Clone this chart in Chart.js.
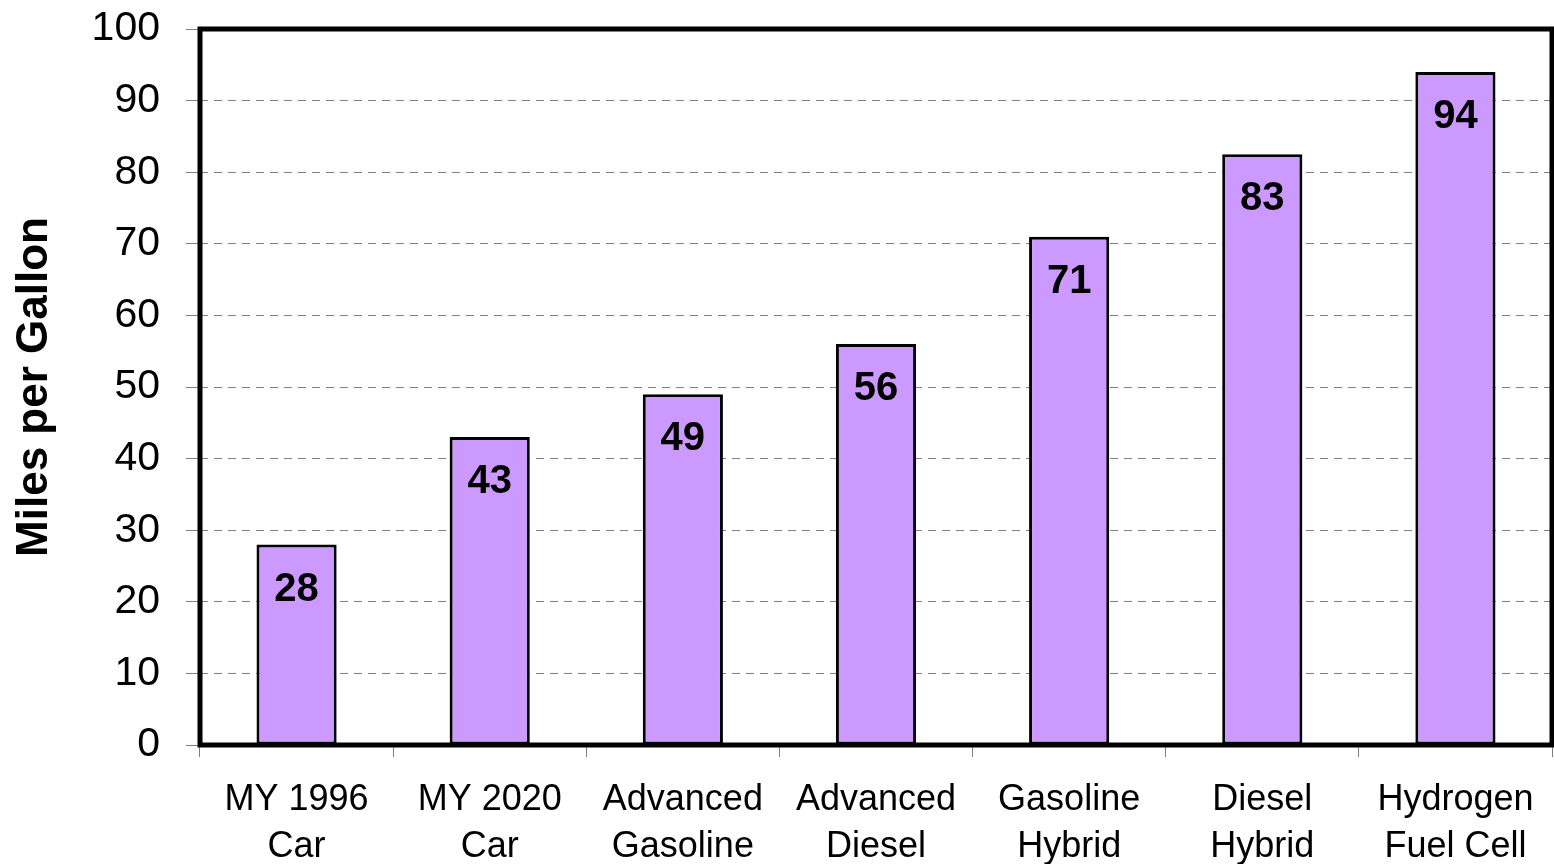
<!DOCTYPE html>
<html>
<head>
<meta charset="utf-8">
<script src="https://cdn.jsdelivr.net/npm/chart.js@4/dist/chart.umd.min.js"></script>
<style>
  html, body { margin: 0; padding: 0; background: #fff; }
  #mpg-chart { display: block; }
</style>
</head>
<body>
<canvas id="mpg-chart" width="1554" height="864"></canvas>
<script>
// categories, two lines each
var categories = [
  ['MY 1996', 'Car'],
  ['MY 2020', 'Car'],
  ['Advanced', 'Gasoline'],
  ['Advanced', 'Diesel'],
  ['Gasoline', 'Hybrid'],
  ['Diesel', 'Hybrid'],
  ['Hydrogen', 'Fuel Cell']
];
var mpgValues = [28, 43, 49, 56, 71, 82.5, 94];
var yTicks = [0, 10, 20, 30, 40, 50, 60, 70, 80, 90, 100];

var FONT = 'Arial, "Liberation Sans", sans-serif';

// value labels drawn inside the top of each bar
var barLabels = {
  id: 'barLabels',
  afterDatasetsDraw: function (chart) {
    var ctx = chart.ctx;
    var meta = chart.getDatasetMeta(0);
    ctx.save();
    ctx.font = 'bold 40px ' + FONT;
    ctx.fillStyle = '#000';
    ctx.textAlign = 'center';
    ctx.textBaseline = 'middle';
    meta.data.forEach(function (bar, i) {
      ctx.fillText(Math.round(mpgValues[i]), bar.x, bar.y + 45);
    });
    ctx.restore();
  }
};

// thick black frame round the plot area
var plotFrame = {
  id: 'plotFrame',
  afterDraw: function (chart) {
    var a = chart.chartArea;
    var ctx = chart.ctx;
    ctx.save();
    ctx.lineWidth = 5;
    ctx.strokeStyle = '#000';
    ctx.strokeRect(a.left, a.top, a.right - a.left, a.bottom - a.top);
    ctx.restore();
  }
};

var config = {
  type: 'bar',
  data: {
    labels: categories,
    datasets: [{
      data: mpgValues,
      backgroundColor: '#CC99FF',
      borderColor: '#000',
      borderWidth: 3,
      borderSkipped: false,
      categoryPercentage: 1,
      barPercentage: 0.415
    }]
  },
  options: {
    responsive: false,
    animation: false,
    layout: {
      padding: { top: 29, right: 2, left: 0, bottom: 0 }
    },
    plugins: {
      legend: { display: false },
      tooltip: { enabled: false }
    },
    scales: {
      x: {
        grid: {
          offset: true,
          drawOnChartArea: false,
          drawTicks: true,
          tickLength: 12,
          tickColor: '#808080',
          tickWidth: 1
        },
        border: { display: false },
        ticks: {
          color: '#000',
          padding: 20,
          maxRotation: 0,
          autoSkip: false,
          font: { family: FONT, size: 36, lineHeight: 1.3 }
        },
        afterFit: function (scale) {
          scale.height = 864 - 745;
          scale.paddingLeft = 0;
          scale.paddingRight = 0;
        }
      },
      y: {
        min: 0,
        max: 100,
        afterBuildTicks: function (scale) {
          scale.ticks = yTicks.map(function (v) { return { value: v }; });
        },
        grid: {
          color: '#808080',
          lineWidth: 1,
          tickLength: 14,
          tickColor: '#808080',
          tickBorderDash: []
        },
        border: { display: false, dash: [8, 6] },
        ticks: {
          color: '#000',
          padding: 26,
          font: { family: FONT, size: 41 }
        },
        title: {
          display: true,
          text: 'Miles per Gallon',
          color: '#000',
          padding: { top: 8, bottom: 0 },
          font: { family: FONT, size: 44, weight: 'bold' }
        },
        afterFit: function (scale) {
          scale.width = 200;
          scale.paddingTop = 0;
          scale.paddingBottom = 0;
        }
      }
    }
  },
  plugins: [barLabels, plotFrame]
};

window.onload = function () {
  var ctx = document.getElementById('mpg-chart').getContext('2d');
  window.mpgChart = new Chart(ctx, config);
};
</script>
</body>
</html>
